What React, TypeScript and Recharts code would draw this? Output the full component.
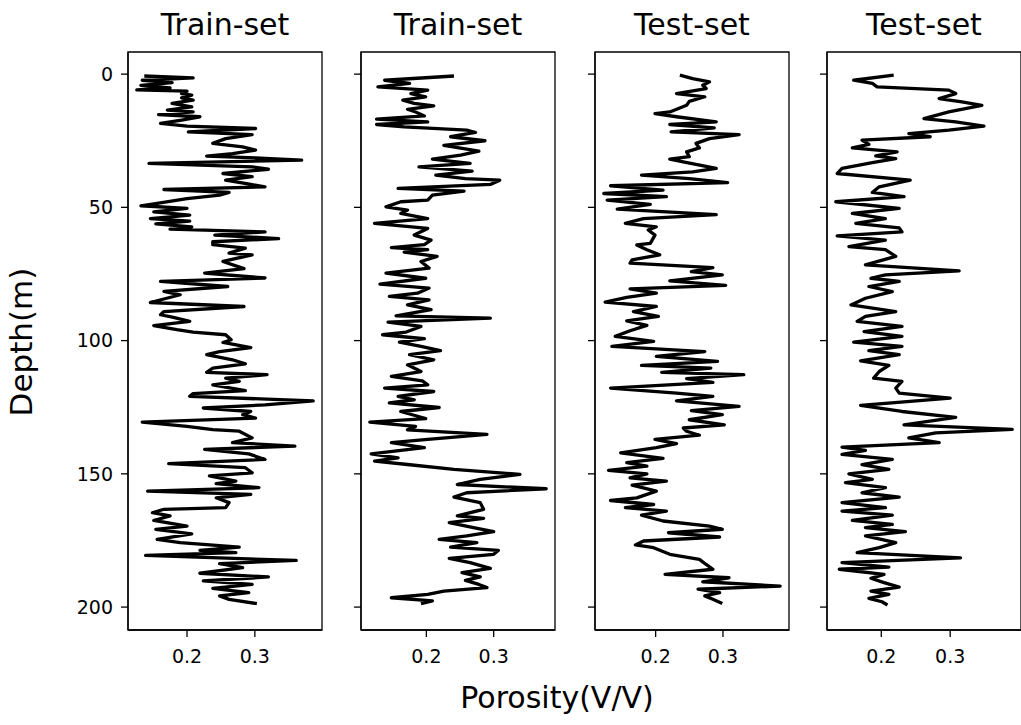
import React from "react";
import { ScatterChart, Scatter, XAxis, YAxis, ReferenceArea } from "recharts";

// well 1 (train)
const depth1 = [0.7, 1.4, 2.3, 3.2, 4.2, 5.2, 5.9, 6.4, 7.3, 7.9, 8.9, 9.8, 11.0, 12.3, 13.5, 14.2, 15.2, 16.0, 17.3, 18.5, 19.5, 20.4, 21.7, 22.7, 24.2, 26.0, 27.3, 28.5, 29.8, 30.8, 31.4, 32.3, 33.5, 34.8, 35.7, 37.3, 38.5, 39.8, 41.4, 42.3, 43.3, 44.4, 45.4, 46.7, 48.5, 49.4, 50.4, 51.7, 52.9, 54.2, 55.2, 56.2, 57.3, 58.2, 59.2, 60.4, 61.7, 62.9, 64.0, 65.3, 67.2, 67.8, 70.3, 73.0, 74.7, 76.5, 77.8, 79.7, 81.5, 82.8, 85.7, 87.2, 89.1, 90.3, 91.3, 92.8, 94.4, 95.9, 96.8, 97.8, 99.7, 100.7, 102.6, 104.1, 105.3, 107.2, 108.7, 110.3, 111.9, 112.8, 114.1, 115.3, 116.6, 118.8, 119.9, 120.9, 122.6, 124.1, 125.3, 126.6, 127.8, 129.1, 130.6, 132.2, 133.4, 134.0, 136.5, 138.3, 139.6, 140.8, 142.5, 144.6, 146.2, 147.7, 149.6, 150.8, 152.7, 153.7, 155.2, 156.5, 157.7, 159.0, 160.8, 162.7, 163.3, 164.6, 165.8, 167.5, 169.6, 170.8, 172.5, 174.6, 175.8, 177.5, 178.7, 179.6, 180.6, 182.5, 183.7, 185.2, 187.3, 188.7, 190.2, 191.5, 193.0, 194.6, 195.8, 197.1, 198.7];
const poro1 = [0.137, 0.209, 0.134, 0.178, 0.132, 0.175, 0.126, 0.2, 0.192, 0.207, 0.192, 0.209, 0.178, 0.207, 0.171, 0.209, 0.158, 0.219, 0.192, 0.161, 0.2, 0.301, 0.202, 0.296, 0.257, 0.238, 0.282, 0.301, 0.267, 0.229, 0.301, 0.369, 0.144, 0.296, 0.32, 0.253, 0.296, 0.257, 0.294, 0.315, 0.166, 0.262, 0.248, 0.2, 0.156, 0.132, 0.2, 0.151, 0.204, 0.146, 0.204, 0.154, 0.207, 0.175, 0.315, 0.241, 0.335, 0.238, 0.238, 0.286, 0.262, 0.296, 0.253, 0.284, 0.226, 0.315, 0.161, 0.26, 0.166, 0.19, 0.146, 0.284, 0.166, 0.161, 0.18, 0.204, 0.151, 0.185, 0.209, 0.257, 0.265, 0.253, 0.294, 0.248, 0.229, 0.267, 0.286, 0.238, 0.229, 0.318, 0.257, 0.277, 0.238, 0.286, 0.209, 0.204, 0.386, 0.315, 0.224, 0.294, 0.282, 0.301, 0.134, 0.2, 0.238, 0.277, 0.296, 0.267, 0.359, 0.226, 0.291, 0.315, 0.173, 0.286, 0.296, 0.233, 0.272, 0.243, 0.306, 0.142, 0.294, 0.243, 0.262, 0.257, 0.166, 0.149, 0.175, 0.151, 0.2, 0.154, 0.207, 0.156, 0.19, 0.277, 0.219, 0.272, 0.139, 0.361, 0.248, 0.282, 0.219, 0.32, 0.224, 0.296, 0.238, 0.291, 0.248, 0.262, 0.303];

// well 2 (train)
const depth2 = [0.7, 2.3, 3.5, 4.8, 6.0, 7.3, 8.5, 9.8, 11.0, 11.9, 13.2, 14.2, 15.7, 16.9, 17.9, 18.9, 19.8, 21.0, 21.9, 23.5, 25.0, 26.7, 28.9, 30.4, 31.9, 33.5, 34.8, 36.4, 37.9, 39.2, 39.8, 41.4, 42.9, 43.9, 45.4, 47.3, 47.9, 49.8, 51.0, 52.3, 54.2, 56.0, 57.9, 60.4, 62.3, 64.0, 65.1, 65.9, 66.8, 68.4, 70.3, 72.8, 74.7, 76.6, 78.8, 80.3, 82.2, 83.4, 84.7, 86.6, 88.4, 90.7, 91.6, 93.1, 94.7, 96.8, 97.8, 99.3, 100.6, 102.2, 103.8, 105.3, 107.2, 109.1, 111.6, 113.4, 115.1, 116.6, 117.8, 119.1, 120.9, 122.2, 123.4, 125.1, 126.6, 128.4, 129.3, 130.6, 132.2, 133.5, 135.2, 137.1, 138.3, 140.2, 142.5, 144.0, 145.2, 146.5, 148.3, 150.2, 152.1, 154.0, 155.6, 157.1, 158.7, 160.8, 163.3, 165.8, 166.7, 168.3, 170.2, 171.7, 173.3, 174.6, 175.8, 177.5, 178.7, 180.2, 181.7, 183.3, 185.5, 187.1, 188.7, 190.0, 191.5, 192.7, 194.0, 195.2, 196.5, 197.7, 198.7];
const poro2 = [0.241, 0.138, 0.175, 0.128, 0.202, 0.177, 0.199, 0.165, 0.182, 0.211, 0.172, 0.184, 0.197, 0.126, 0.202, 0.126, 0.167, 0.26, 0.273, 0.236, 0.287, 0.226, 0.278, 0.251, 0.209, 0.265, 0.189, 0.268, 0.214, 0.258, 0.309, 0.295, 0.158, 0.256, 0.209, 0.202, 0.162, 0.14, 0.172, 0.162, 0.202, 0.123, 0.202, 0.182, 0.207, 0.197, 0.148, 0.202, 0.167, 0.216, 0.192, 0.204, 0.14, 0.199, 0.131, 0.204, 0.187, 0.145, 0.204, 0.172, 0.207, 0.155, 0.295, 0.143, 0.192, 0.17, 0.135, 0.197, 0.16, 0.192, 0.221, 0.175, 0.211, 0.172, 0.192, 0.148, 0.194, 0.202, 0.138, 0.211, 0.158, 0.182, 0.145, 0.219, 0.162, 0.187, 0.199, 0.116, 0.184, 0.172, 0.29, 0.202, 0.148, 0.197, 0.118, 0.158, 0.123, 0.172, 0.241, 0.339, 0.28, 0.246, 0.378, 0.26, 0.241, 0.28, 0.285, 0.246, 0.285, 0.234, 0.27, 0.3, 0.26, 0.219, 0.275, 0.236, 0.307, 0.3, 0.234, 0.265, 0.295, 0.253, 0.28, 0.258, 0.278, 0.29, 0.226, 0.202, 0.148, 0.209, 0.192];

// well 3 (test)
const depth3 = [0.4, 1.7, 2.9, 4.2, 5.4, 7.3, 8.5, 10.2, 11.7, 14.2, 14.8, 16.0, 17.9, 18.9, 20.2, 21.7, 22.7, 24.2, 26.0, 27.7, 29.2, 31.0, 31.9, 32.9, 35.4, 36.7, 37.9, 39.2, 40.7, 41.9, 43.5, 44.8, 46.0, 47.3, 48.9, 50.7, 52.7, 54.2, 56.0, 57.3, 58.5, 60.4, 63.5, 64.1, 65.9, 67.8, 69.7, 70.9, 72.6, 74.1, 75.3, 77.6, 79.3, 80.6, 82.2, 83.8, 85.6, 87.2, 89.1, 90.9, 92.6, 94.3, 96.3, 98.4, 100.3, 102.2, 104.1, 105.9, 107.8, 109.3, 110.3, 111.9, 112.8, 114.3, 115.7, 117.8, 119.7, 120.9, 122.6, 124.7, 126.3, 127.8, 129.7, 131.6, 132.8, 134.0, 135.5, 137.1, 138.7, 140.2, 142.1, 144.2, 145.8, 147.1, 148.7, 150.0, 151.5, 152.7, 154.2, 156.5, 159.0, 160.0, 161.5, 162.7, 164.0, 165.5, 167.7, 169.6, 170.8, 172.1, 173.7, 175.2, 176.7, 177.7, 180.2, 182.1, 184.0, 185.8, 187.7, 189.0, 190.5, 192.1, 193.3, 194.6, 195.8, 197.1, 198.7];
const poro3 = [0.236, 0.255, 0.28, 0.27, 0.275, 0.231, 0.273, 0.25, 0.246, 0.221, 0.199, 0.231, 0.29, 0.221, 0.287, 0.223, 0.324, 0.28, 0.26, 0.265, 0.246, 0.25, 0.221, 0.241, 0.29, 0.255, 0.179, 0.25, 0.307, 0.133, 0.211, 0.123, 0.216, 0.128, 0.192, 0.143, 0.29, 0.182, 0.155, 0.201, 0.189, 0.199, 0.192, 0.172, 0.187, 0.206, 0.165, 0.162, 0.285, 0.253, 0.299, 0.221, 0.304, 0.162, 0.201, 0.157, 0.125, 0.201, 0.167, 0.204, 0.157, 0.187, 0.162, 0.14, 0.197, 0.135, 0.273, 0.201, 0.292, 0.179, 0.282, 0.209, 0.331, 0.246, 0.285, 0.133, 0.231, 0.285, 0.231, 0.324, 0.253, 0.299, 0.25, 0.302, 0.241, 0.246, 0.265, 0.199, 0.231, 0.201, 0.148, 0.211, 0.157, 0.187, 0.13, 0.187, 0.162, 0.216, 0.165, 0.201, 0.172, 0.133, 0.197, 0.155, 0.216, 0.179, 0.211, 0.28, 0.299, 0.219, 0.295, 0.182, 0.17, 0.197, 0.221, 0.265, 0.275, 0.285, 0.214, 0.309, 0.27, 0.385, 0.263, 0.295, 0.273, 0.285, 0.299];

// well 4 (test)
const depth4 = [0.4, 2.3, 3.5, 4.8, 6.0, 7.3, 9.2, 10.4, 11.7, 14.2, 16.7, 17.9, 19.5, 21.0, 22.3, 23.5, 24.8, 26.4, 27.7, 29.2, 30.7, 31.7, 33.2, 35.4, 37.3, 39.8, 42.3, 44.4, 46.0, 47.9, 50.4, 52.3, 54.2, 56.0, 57.7, 59.2, 60.7, 62.3, 64.7, 65.9, 68.4, 71.6, 73.8, 75.3, 76.6, 77.8, 79.7, 81.6, 84.1, 86.6, 89.1, 90.9, 92.8, 94.7, 96.6, 98.4, 100.6, 102.2, 103.8, 105.3, 107.6, 109.3, 111.6, 114.1, 115.3, 117.8, 119.7, 121.6, 124.3, 126.6, 128.8, 131.6, 133.3, 134.6, 136.5, 138.3, 140.0, 141.2, 142.7, 144.6, 146.5, 148.3, 150.0, 152.1, 153.3, 155.2, 157.1, 158.7, 160.8, 162.7, 164.0, 165.5, 167.5, 169.0, 170.2, 171.7, 173.3, 175.8, 177.7, 179.6, 181.5, 183.3, 185.0, 185.8, 187.7, 189.2, 190.8, 192.5, 194.0, 195.2, 196.7, 198.0, 199.2];
const poro4 = [0.218, 0.16, 0.187, 0.194, 0.298, 0.308, 0.284, 0.317, 0.346, 0.298, 0.262, 0.308, 0.349, 0.298, 0.24, 0.271, 0.172, 0.182, 0.158, 0.223, 0.192, 0.221, 0.187, 0.143, 0.136, 0.242, 0.197, 0.187, 0.233, 0.134, 0.226, 0.158, 0.206, 0.163, 0.226, 0.23, 0.136, 0.206, 0.153, 0.206, 0.221, 0.177, 0.313, 0.206, 0.185, 0.226, 0.182, 0.216, 0.177, 0.156, 0.221, 0.177, 0.165, 0.23, 0.175, 0.23, 0.16, 0.23, 0.182, 0.226, 0.17, 0.211, 0.197, 0.189, 0.23, 0.221, 0.226, 0.3, 0.17, 0.23, 0.308, 0.233, 0.39, 0.279, 0.24, 0.284, 0.143, 0.177, 0.143, 0.216, 0.172, 0.211, 0.153, 0.187, 0.148, 0.206, 0.172, 0.226, 0.143, 0.206, 0.143, 0.216, 0.158, 0.216, 0.177, 0.235, 0.177, 0.221, 0.197, 0.165, 0.315, 0.143, 0.211, 0.139, 0.204, 0.185, 0.204, 0.226, 0.185, 0.211, 0.182, 0.201, 0.209];

const titles = ["Train-set", "Train-set", "Test-set", "Test-set"];
const depthTicks = [0, 50, 100, 150, 200];
const poroTicks = [0.2, 0.3];

const FONT = "'DejaVu Sans', sans-serif";
const PLOT_TOP = 52;
const PLOT_H = 578;
const PLOT_W = 194;
const AXIS_W = 60;
const XAXIS_H = 50;
const Y_DOMAIN: [number, number] = [-8.3, 208.6];
const panelLefts = [128, 361, 595, 827];

const Panel = ({ depth, poro, left, title, first }: any) => {
  const data = depth.map((d: number, i: number) => ({ d, p: poro[i] }));
  const lo = Math.min(...poro);
  const hi = Math.max(...poro);
  const pad = (hi - lo) * 0.05;
  const xDomain: [number, number] = [lo - pad, hi + pad];

  return (
    <>
      <div
        style={{
          position: "absolute",
          left: left - 20,
          top: 10,
          width: PLOT_W + 40,
          textAlign: "center",
          fontFamily: FONT,
          fontSize: 30,
          lineHeight: "30px",
          whiteSpace: "nowrap",
        }}
      >
        {title}
      </div>
      <div style={{ position: "absolute", left: left - AXIS_W, top: 0 }}>
        <ScatterChart
          width={AXIS_W + PLOT_W + 4}
          height={725}
          margin={{ top: PLOT_TOP, right: 4, bottom: 725 - PLOT_TOP - PLOT_H - XAXIS_H, left: 0 }}
        >
          <XAxis
            type="number"
            dataKey="p"
            domain={xDomain}
            allowDataOverflow
            ticks={poroTicks}
            height={XAXIS_H}
            tickFormatter={(v: number) => v.toFixed(1)}
            axisLine={{ stroke: "#000", strokeWidth: 1.3 }}
            tickLine={{ stroke: "#000", strokeWidth: 1.3 }}
            tickSize={7}
            tickMargin={13}
            tick={{ fill: "#000", fontSize: 19, fontFamily: FONT }}
          />
          <YAxis
            type="number"
            dataKey="d"
            domain={Y_DOMAIN}
            allowDataOverflow
            reversed
            ticks={depthTicks}
            width={AXIS_W}
            tickFormatter={(v: number) => (first ? String(v) : "")}
            axisLine={{ stroke: "#000", strokeWidth: 1.3 }}
            tickLine={{ stroke: "#000", strokeWidth: 1.3 }}
            tickSize={7}
            tickMargin={8}
            tick={{ fill: "#000", fontSize: 19, fontFamily: FONT }}
          />
          <ReferenceArea
            x1={xDomain[0]}
            x2={xDomain[1]}
            y1={Y_DOMAIN[0]}
            y2={Y_DOMAIN[1]}
            fill="none"
            stroke="#000"
            strokeWidth={1.3}
          />
          <Scatter
            data={data}
            line={{ stroke: "#000", strokeWidth: 3.3, strokeLinejoin: "round" }}
            shape={() => <g />}
            isAnimationActive={false}
          />
        </ScatterChart>
      </div>
    </>
  );
};

export default function App() {
  const wells = [
    { depth: depth1, poro: poro1 },
    { depth: depth2, poro: poro2 },
    { depth: depth3, poro: poro3 },
    { depth: depth4, poro: poro4 },
  ];
  return (
    <div
      style={{
        position: "absolute",
        left: 0,
        top: 0,
        width: 1021,
        height: 725,
        overflow: "hidden",
        background: "#fff",
      }}
    >
      {wells.map((w, i) => (
        <Panel key={i} depth={w.depth} poro={w.poro} left={panelLefts[i]} title={titles[i]} first={i === 0} />
      ))}
      <div
        style={{
          position: "absolute",
          left: 21,
          top: 342,
          transform: "translate(-50%, -50%) rotate(-90deg)",
          fontFamily: FONT,
          fontSize: 31,
          whiteSpace: "nowrap",
        }}
      >
        Depth(m)
      </div>
      <div
        style={{
          position: "absolute",
          left: 557,
          top: 697,
          transform: "translate(-50%, -50%)",
          fontFamily: FONT,
          fontSize: 30,
          whiteSpace: "nowrap",
        }}
      >
        Porosity(V/V)
      </div>
    </div>
  );
}
